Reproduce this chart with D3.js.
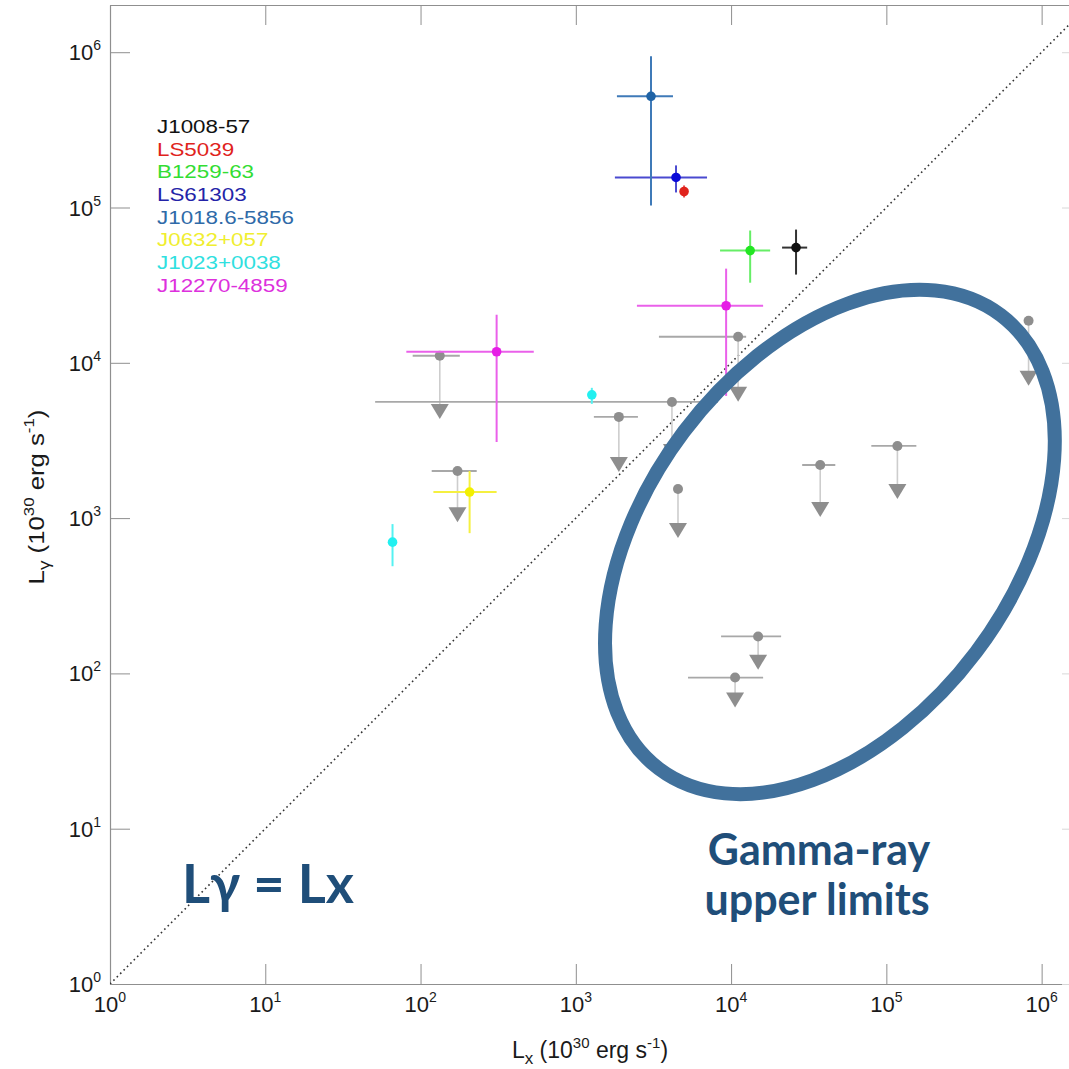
<!DOCTYPE html>
<html>
<head>
<meta charset="utf-8">
<script src="https://cdn.jsdelivr.net/npm/d3@7"></script>
<style>
  html, body { margin: 0; padding: 0; background: #ffffff; }
  svg { display: block; }
</style>
</head>
<body>
<svg id="chart" width="1069" height="1069"></svg>
<script>
// ---------------- DATA ----------------
const sourceNames = ["J1008-57", "LS5039", "B1259-63", "LS61303", "J1018.6-5856", "J0632+057", "J1023+0038", "J12270-4859"];

// Detections (index into sourceNames)
const detSource = [0, 1, 2, 3, 4, 5, 6, 6, 7, 7];
const detLx     = [26200, 4980, 13270, 4420, 3050, 207, 66, 1268, 309, 9290];
const detLxLo   = [21300, 4980, 8490, 1785, 1840, 121, 66, 1268, 81, 2475];
const detLxHi   = [30900, 4980, 17850, 7000, 4225, 309, 66, 1268, 536, 16080];
const detLy     = [55200, 126800, 52800, 156200, 520000, 1472, 700, 6220, 11780, 23300];
const detLyLo   = [37000, 116000, 32800, 125000, 103000, 800, 490, 5440, 3090, 6120];
const detLyHi   = [72100, 138700, 71100, 186700, 942000, 2010, 915, 6900, 20400, 40400];

// Gamma-ray upper limits (grey)
const ulLx      = [133, 4160, 1893, 173, 4550, 11100, 824000, 117800, 37500, 14930, 10610];
const ulLxLo    = [89, 51, 1307, 118, 4550, 3430, 824000, 80000, 28700, 8620, 5280];
const ulLxHi    = [179, 8240, 2512, 230, 4550, 12500, 824000, 156000, 46900, 21000, 16080];
const ulLy      = [11100, 5600, 4485, 2010, 1538, 14720, 18660, 2915, 2198, 173, 94];
const ulLyArrow = [4900, 2705, 2230, 1060, 837, 6310, 8000, 1493, 1143, 119, 68];

const tickValues = [1, 10, 100, 1000, 10000, 100000, 1000000];
const axisMax = { x: Math.pow(10, 6.26), y: Math.pow(10, 6.304) };

// Annotation ellipse centre (data units)
const ellipseCenter = { lx: 43300, ly: 702 };

// ---------------- STYLE ----------------
const markerColors = ["#111111", "#e0231c", "#22e622", "#0a0ad8", "#1f63a6", "#f2f000", "#22f0f0", "#e61ee6"];
const barColors    = ["#333333", "#e85050", "#66ee66", "#4a4ad0", "#3f7ab8", "#f5f040", "#55f2f2", "#ea60ea"];
const legendColors = ["#111111", "#e0231c", "#33dd33", "#2323a8", "#2f6aa8", "#f0ee30", "#30e0e0", "#dd30dd"];

const svg = d3.select("#chart");
const L = 110, R = 1082, T = 5, B = 984;

const x = d3.scaleLog().domain([1, axisMax.x]).range([L, R]);
const y = d3.scaleLog().domain([1, axisMax.y]).range([B, T]);

const axisColor = "#8f8f8f";
function styleAxis(g) {
  g.selectAll("path.domain").attr("stroke", axisColor).attr("stroke-width", 1.2);
  g.selectAll(".tick line").attr("stroke", axisColor).attr("stroke-width", 1);
}

svg.append("g").attr("transform", `translate(0,${B})`)
  .call(d3.axisBottom(x).tickValues(tickValues).tickSizeInner(-20).tickSizeOuter(0).tickFormat(""))
  .call(styleAxis);
svg.append("g").attr("transform", `translate(0,${T})`)
  .call(d3.axisTop(x).tickValues(tickValues).tickSizeInner(-20).tickSizeOuter(0).tickFormat(""))
  .call(styleAxis);
svg.append("g").attr("transform", `translate(${L},0)`)
  .call(d3.axisLeft(y).tickValues(tickValues).tickSizeInner(-20).tickSizeOuter(0).tickFormat(""))
  .call(styleAxis);
svg.append("g").attr("transform", `translate(${R},0)`)
  .call(d3.axisRight(y).tickValues(tickValues).tickSizeInner(-20).tickSizeOuter(0).tickFormat(""))
  .call(g => { styleAxis(g); g.selectAll(".tick line").attr("stroke", "#d8d8d8"); });

// Tick labels 10^n
const tickFont = "'Liberation Sans', Arial, Helvetica, sans-serif";
function powLabel(sel) {
  sel.append("tspan").text("10");
  sel.append("tspan").attr("dy", -10).attr("font-size", 14).text(d => Math.round(Math.log10(d)));
}
svg.append("g").selectAll("text").data(tickValues).join("text")
  .attr("x", d => x(d)).attr("y", 1012)
  .attr("text-anchor", "middle").attr("font-family", tickFont).attr("font-size", 22).attr("fill", "#1a1a1a")
  .call(powLabel);
svg.append("g").selectAll("text").data(tickValues).join("text")
  .attr("x", 101).attr("y", d => y(d) + 8)
  .attr("text-anchor", "end").attr("font-family", tickFont).attr("font-size", 22).attr("fill", "#1a1a1a")
  .call(powLabel);

// Axis titles
function axisTitle(sel, sub) {
  sel.append("tspan").text("L");
  sel.append("tspan").attr("dy", 6).attr("font-size", 17).text(sub);
  sel.append("tspan").attr("dy", -6).text(" (10");
  sel.append("tspan").attr("dy", -10).attr("font-size", 15).text("30");
  sel.append("tspan").attr("dy", 10).text(" erg s");
  sel.append("tspan").attr("dy", -10).attr("font-size", 15).text("-1");
  sel.append("tspan").attr("dy", 10).text(")");
}
svg.append("text").attr("x", 590).attr("y", 1058).attr("text-anchor", "middle")
  .attr("font-family", tickFont).attr("font-size", 23).attr("fill", "#1a1a1a")
  .call(axisTitle, "x");

svg.append("text").attr("transform", "translate(44,497) rotate(-90) scale(1.12,1)").attr("text-anchor", "middle")
  .attr("font-family", tickFont).attr("font-size", 23).attr("fill", "#1a1a1a")
  .call(axisTitle, "γ");

// Plot area clip
svg.append("clipPath").attr("id", "clip").append("rect")
  .attr("x", L).attr("y", T).attr("width", R - L).attr("height", B - T);
const plot = svg.append("g").attr("clip-path", "url(#clip)");

// 1:1 line
plot.append("line")
  .attr("x1", x(1)).attr("y1", y(1)).attr("x2", x(axisMax.y)).attr("y2", y(axisMax.y))
  .attr("stroke", "#333").attr("stroke-width", 1.6).attr("stroke-dasharray", "1.6,3.2");

// Upper limits
const ulIdx = d3.range(ulLx.length);
const ul = plot.append("g");
ul.selectAll("line.v").data(ulIdx).join("line").attr("class", "v")
  .attr("x1", i => x(ulLx[i])).attr("x2", i => x(ulLx[i]))
  .attr("y1", i => y(ulLy[i])).attr("y2", i => y(ulLyArrow[i]))
  .attr("stroke", "#cdcdcd").attr("stroke-width", 1.6);
ul.selectAll("line.h").data(ulIdx).join("line").attr("class", "h")
  .attr("x1", i => x(ulLxLo[i])).attr("x2", i => x(ulLxHi[i]))
  .attr("y1", i => y(ulLy[i])).attr("y2", i => y(ulLy[i]))
  .attr("stroke", "#a8a8a8").attr("stroke-width", 1.8);
ul.selectAll("circle").data(ulIdx).join("circle")
  .attr("cx", i => x(ulLx[i])).attr("cy", i => y(ulLy[i])).attr("r", 5)
  .attr("fill", "#8e8e8e");
ul.selectAll("path.tri").data(ulIdx).join("path").attr("class", "tri")
  .attr("transform", i => `translate(${x(ulLx[i])},${y(ulLyArrow[i])})`)
  .attr("d", "M-9,-7 L9,-7 L0,8 Z")
  .attr("fill", "#8e8e8e");

// Detections
const detIdx = d3.range(detLx.length);
const det = plot.append("g");
det.selectAll("line.h").data(detIdx.filter(i => detLxHi[i] > detLxLo[i])).join("line").attr("class", "h")
  .attr("x1", i => x(detLxLo[i])).attr("x2", i => x(detLxHi[i]))
  .attr("y1", i => y(detLy[i])).attr("y2", i => y(detLy[i]))
  .attr("stroke", i => barColors[detSource[i]]).attr("stroke-width", 2);
det.selectAll("line.v").data(detIdx).join("line").attr("class", "v")
  .attr("x1", i => x(detLx[i])).attr("x2", i => x(detLx[i]))
  .attr("y1", i => y(detLyLo[i])).attr("y2", i => y(detLyHi[i]))
  .attr("stroke", i => barColors[detSource[i]]).attr("stroke-width", 2);
det.selectAll("circle").data(detIdx).join("circle")
  .attr("cx", i => x(detLx[i])).attr("cy", i => y(detLy[i])).attr("r", 4.8)
  .attr("fill", i => markerColors[detSource[i]]);

// Legend
const leg = svg.append("g").attr("transform", "translate(157,133) scale(1.28,1)");
leg.selectAll("text").data(sourceNames).join("text")
  .attr("x", 0).attr("y", (d, i) => i * 22.7)
  .attr("font-family", tickFont).attr("font-size", 17.5)
  .attr("fill", (d, i) => legendColors[i]).text(d => d);

// Annotation ellipse
svg.append("ellipse")
  .attr("transform", `translate(${x(ellipseCenter.lx)},${y(ellipseCenter.ly)}) rotate(-53)`)
  .attr("rx", 284).attr("ry", 183)
  .attr("fill", "none").attr("stroke", "#41719c").attr("stroke-width", 14);

// Annotation texts
const annFont = "Lato, 'Open Sans', sans-serif";
svg.append("text").attr("x", 182).attr("y", 903)
  .attr("font-family", annFont).attr("font-weight", "bold").attr("font-size", 54)
  .attr("fill", "#1f4e79").text("Lγ = Lx");
svg.append("text").attr("x", 819).attr("y", 865).attr("text-anchor", "middle")
  .attr("font-family", annFont).attr("font-weight", "bold").attr("font-size", 43)
  .attr("fill", "#1f4e79").text("Gamma-ray");
svg.append("text").attr("x", 817).attr("y", 915).attr("text-anchor", "middle")
  .attr("font-family", annFont).attr("font-weight", "bold").attr("font-size", 43)
  .attr("fill", "#1f4e79").text("upper limits");
</script>
</body>
</html>
